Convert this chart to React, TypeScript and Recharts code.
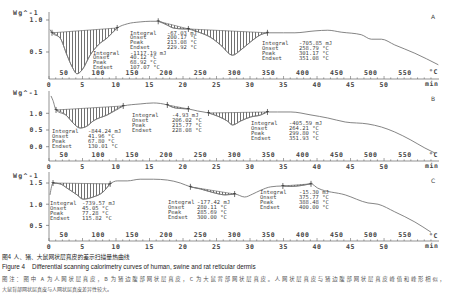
import React from 'react';
import { ComposedChart, Line, Area, Scatter, XAxis, YAxis } from 'recharts';

// time axis (min) and temperature calibration
const heatingStart = 27.9; // °C at t = 0 min
const heatingRate = 9.83; // K/min
const timeMax = 58.2;
const minuteTicks = Array.from({ length: 58 }, (_, i) => i);
const minuteLabels = [0, 5, 10, 15, 20, 25, 30, 35, 40, 45, 50];
const tempTicks = [50, 100, 150, 200, 250, 300, 350, 400, 450, 500, 550];

// DSC curves: [time (min), heat flow (W/g)]
const curveA: [number, number][] = [
  [0.15, 0.85], [0.45, 0.8], [1.65, 0.72], [2.69, 0.45], [3.44, 0.27], [4.19, 0.16], [4.94, 0.22],
  [6.14, 0.45], [7.34, 0.61], [8.68, 0.72], [10.18, 0.875], [11.68, 0.94], [13.6, 0.97], [15.1, 0.98],
  [16.3, 0.98], [17.66, 0.92], [18.56, 0.875], [20.06, 0.86], [20.8, 0.86], [22.6, 0.8], [24.1, 0.73],
  [25.6, 0.61], [27.4, 0.45], [28.6, 0.53], [30.1, 0.66], [31.6, 0.77], [32.6, 0.8], [35.0, 0.8],
  [36.7, 0.8], [39.7, 0.83], [41.6, 0.84], [43.6, 0.81], [46.6, 0.77], [48.1, 0.7], [49.6, 0.7],
  [51.6, 0.61], [54.6, 0.48], [58.1, 0.3],
];
const curveB: [number, number][] = [
  [0.3, 1.52], [0.6, 1.38], [1.05, 1.1], [2.69, 0.92], [3.59, 0.71], [4.64, 0.56], [5.69, 0.62],
  [6.59, 0.77], [8.68, 0.95], [11.08, 1.22], [13.6, 1.28], [15.57, 1.31], [17.66, 1.25], [18.86, 1.16],
  [20.8, 1.13], [22.16, 1.07], [23.8, 1.01], [25.1, 0.92], [26.6, 0.77], [27.4, 0.65], [28.6, 0.77],
  [30.1, 0.89], [31.6, 0.95], [32.6, 1.04], [34.1, 1.04], [36.1, 1.04], [39.1, 0.95], [41.6, 0.86],
  [44.2, 0.74], [47.6, 0.68], [49.6, 0.59], [51.6, 0.44], [54.0, 0.2], [56.1, -0.04], [57.6, -0.19],
];
const curveC: [number, number][] = [
  [0.15, 1.22], [0.6, 1.5], [1.65, 1.48], [2.69, 1.38], [4.19, 1.22], [5.09, 1.12], [6.59, 1.17],
  [8.08, 1.29], [9.13, 1.48], [10.18, 1.55], [11.68, 1.55], [13.6, 1.59], [15.57, 1.59], [17.66, 1.57],
  [19.6, 1.5], [21.1, 1.41], [22.6, 1.36], [24.85, 1.26], [26.3, 1.22], [27.7, 1.24], [29.2, 1.17],
  [30.4, 1.24], [31.6, 1.33], [33.1, 1.41], [34.9, 1.43], [36.1, 1.42], [37.6, 1.44], [39.1, 1.48],
  [40.1, 1.38], [44.2, 1.22], [47.6, 1.03], [49.1, 1.0], [51.6, 0.82], [54.6, 0.58], [57.0, 0.34],
];

// integration limits (min)
const hatchA: [number, number][] = [[0.45, 10.18], [16.3, 20.8], [20.8, 32.6]];
const hatchB: [number, number][] = [[1.05, 11.08], [17.66, 20.8], [23.8, 32.6]];
const hatchC: [number, number][] = [[0.6, 9.13], [21.1, 27.7], [34.9, 39.1]];

const resultLabels = ['Integral', 'Onset', 'Peak', 'Endset'];
const resultsA = [
  ['-1117.19 mJ', '40.12 °C', '68.92 °C', '107.07 °C'],
  ['-67.03 mJ', '200.17 °C', '213.08 °C', '229.92 °C'],
  ['-705.85 mJ', '258.79 °C', '301.17 °C', '351.08 °C'],
];
const resultsB = [
  ['-844.24 mJ', '41.96 °C', '67.80 °C', '130.01 °C'],
  ['-4.93 mJ', '206.02 °C', '215.77 °C', '228.08 °C'],
  ['-405.59 mJ', '264.21 °C', '299.80 °C', '351.93 °C'],
];
const resultsC = [
  ['-739.57 mJ', '45.05 °C', '77.28 °C', '115.82 °C'],
  ['-177.42 mJ', '280.11 °C', '285.69 °C', '300.00 °C'],
  ['-15.30 mJ', '375.77 °C', '388.48 °C', '400.00 °C'],
];

const tempDomain = [heatingStart, heatingStart + heatingRate * timeMax];
const tempData = tempTicks.map((T) => ({ T, v: 0 }));

const AX = '#666';
const TXT = '#444';
const MONO = 'DejaVu Sans Mono';

const MinuteTick = (props: any) => {
  const { x, y, payload } = props;
  const v = payload.value;
  const major = minuteLabels.includes(v);
  return (
    <g>
      <line x1={x} x2={x} y1={y} y2={y - (major ? 3 : 1.6)} stroke={AX} strokeWidth={0.6} />
      {major && (
        <text x={x} y={y + 7.5} textAnchor="middle" fontSize={6.5} fontFamily={MONO} fontWeight="bold" fill={TXT} letterSpacing={0.6}>
          {v}
        </text>
      )}
    </g>
  );
};

const TempTick = (props: any) => {
  const { x, y, payload } = props;
  return (
    <text x={x} y={y - 4.5} textAnchor="middle" fontSize={6.5} fontFamily={MONO} fontWeight="bold" fill={TXT} letterSpacing={0.6}>
      {payload.value}
    </text>
  );
};

const Marker = (props: any) => {
  const { cx, cy } = props;
  return (
    <g stroke="#333" strokeWidth={0.7} fill="none">
      <line x1={cx} x2={cx} y1={cy - 3} y2={cy + 3} />
      <line x1={cx - 1.5} x2={cx + 1.5} y1={cy - 0.5} y2={cy - 0.5} />
    </g>
  );
};

function valueAt(curve: [number, number][], t: number) {
  const p = curve.find((c) => c[0] === t);
  return p ? p[1] : 0;
}

type PanelProps = {
  id: string;
  top: number;
  height: number;
  marginTop: number;
  curve: [number, number][];
  hatches: [number, number][];
  yDomain: [number, number];
  yTicks: number[];
};

function Panel({ id, top, height, marginTop, curve, hatches, yDomain, yTicks }: PanelProps) {
  const lineData = curve.map(([t, v]) => ({ t, v }));
  const areas = hatches.map(([a, b]) => {
    const va = valueAt(curve, a);
    const vb = valueAt(curve, b);
    return curve
      .filter(([t]) => t >= a && t <= b)
      .map(([t, v]) => ({ t, range: [v, va + ((vb - va) * (t - a)) / (b - a)] }));
  });
  const markerTimes = Array.from(new Set(hatches.flat()));
  const markers = markerTimes.map((t) => ({ t, v: valueAt(curve, t) }));
  return (
    <div style={{ position: 'absolute', left: 0, top }}>
      <ComposedChart width={454} height={height} margin={{ top: marginTop, right: 15, bottom: 0, left: 0 }}>
        <defs>
          <pattern id={`hatch${id}`} patternUnits="userSpaceOnUse" width={3} height={6}>
            <line x1={0.5} y1={0} x2={0.5} y2={6} stroke="#333" strokeWidth={0.7} />
          </pattern>
        </defs>
        <XAxis
          xAxisId="min"
          type="number"
          dataKey="t"
          domain={[0, timeMax]}
          allowDataOverflow
          ticks={minuteTicks}
          interval={0}
          tick={<MinuteTick />}
          tickLine={false}
          tickSize={0}
          tickMargin={0}
          height={11}
          axisLine={{ stroke: AX, strokeWidth: 0.7 }}
        />
        <XAxis
          xAxisId="temp"
          type="number"
          dataKey="T"
          domain={tempDomain}
          allowDataOverflow
          ticks={tempTicks}
          interval={0}
          mirror
          height={1}
          tickSize={0}
          tickMargin={0}
          axisLine={false}
          tickLine={false}
          tick={<TempTick />}
        />
        <YAxis
          type="number"
          domain={yDomain}
          allowDataOverflow
          ticks={yTicks}
          interval={0}
          width={49}
          tickFormatter={(v: number) => v.toFixed(1)}
          tickSize={3}
          tickMargin={3}
          axisLine={{ stroke: AX, strokeWidth: 0.7 }}
          tickLine={{ stroke: AX, strokeWidth: 0.7 }}
          tick={{ fontSize: 6.5, fill: TXT, fontFamily: MONO, fontWeight: 'bold', letterSpacing: 0.6 }}
        />
        <Line
          xAxisId="temp"
          data={tempData}
          dataKey="v"
          stroke="none"
          dot={false}
          activeDot={false}
          isAnimationActive={false}
        />
        {areas.map((d, i) => (
          <Area
            key={i}
            xAxisId="min"
            data={d}
            dataKey="range"
            type="monotone"
            fill={`url(#hatch${id})`}
            fillOpacity={1}
            stroke="#555"
            strokeWidth={0.6}
            dot={false}
            activeDot={false}
            isAnimationActive={false}
          />
        ))}
        <Line
          xAxisId="min"
          data={lineData}
          dataKey="v"
          type="monotone"
          stroke="#777"
          strokeWidth={0.9}
          dot={false}
          activeDot={false}
          isAnimationActive={false}
        />
        <Scatter xAxisId="min" data={markers} dataKey="v" shape={<Marker />} isAnimationActive={false} />
      </ComposedChart>
    </div>
  );
}

const abs = (x: number, y: number, extra: React.CSSProperties = {}): React.CSSProperties => ({
  position: 'absolute',
  left: x,
  top: y,
  whiteSpace: 'pre',
  ...extra,
});

function Results({ x, vx, y, values, lh = 5 }: { x: number; vx: number; y: number; values: string[]; lh?: number }) {
  const st: React.CSSProperties = { fontFamily: MONO, fontSize: 5.5, lineHeight: `${lh}px`, color: TXT };
  return (
    <>
      <div style={abs(x, y - lh / 2, st)}>{resultLabels.join('\n')}</div>
      <div style={abs(vx, y - lh / 2, st)}>{values.join('\n')}</div>
    </>
  );
}

const axisText: React.CSSProperties = {
  fontFamily: MONO,
  fontSize: 6.5,
  fontWeight: 'bold',
  color: TXT,
  lineHeight: '7px',
  letterSpacing: 0.6,
};

function UnitLabels({ yUnit, yTemp, yMin, letter, yLetter }: { yUnit: number; yTemp: number; yMin: number; letter: string; yLetter: number }) {
  return (
    <>
      <div style={abs(13, yUnit - 3.5, { ...axisText, letterSpacing: 1.3 })}>Wg^-1</div>
      <div style={abs(429, yTemp - 3.5, axisText)}>°C</div>
      <div style={abs(425, yMin - 3.5, axisText)}>min</div>
      <div style={abs(431, yLetter - 3.5, { fontFamily: 'DejaVu Sans', fontSize: 6, color: TXT, lineHeight: '7px' })}>{letter}</div>
    </>
  );
}

export default function App() {
  return (
    <div style={{ position: 'absolute', left: 0, top: 0, width: 454, height: 300, background: '#fff', overflow: 'hidden' }}>
      <Panel id="A" top={0} height={90} marginTop={12} curve={curveA} hatches={hatchA} yDomain={[0.078, 1.125]} yTicks={[0.5, 1.0]} />
      <Panel id="B" top={80} height={92} marginTop={11} curve={curveB} hatches={hatchB} yDomain={[-0.428, 1.668]} yTicks={[0, 0.5, 1.0]} />
      <Panel id="C" top={161} height={91} marginTop={11} curve={curveC} hatches={hatchC} yDomain={[0.132, 1.76]} yTicks={[0.5, 1.0, 1.5]} />

      <Results x={93} vx={130} y={53.2} values={resultsA[0]} lh={4.6} />
      <Results x={130} vx={167} y={33} values={resultsA[1]} lh={4.8} />
      <Results x={262} vx={299} y={43} values={resultsA[2]} />
      <Results x={52} vx={88} y={131} values={resultsB[0]} />
      <Results x={132} vx={172} y={115} values={resultsB[1]} />
      <Results x={251} vx={289} y={123} values={resultsB[2]} />
      <Results x={50} vx={82} y={203} values={resultsC[0]} />
      <Results x={168} vx={197} y={202} values={resultsC[1]} />
      <Results x={260} vx={299} y={192} values={resultsC[2]} />

      <UnitLabels yUnit={13} yTemp={72} yMin={84} letter="A" yLetter={16} />
      <UnitLabels yUnit={93} yTemp={155} yMin={166} letter="B" yLetter={98} />
      <UnitLabels yUnit={176} yTemp={236} yMin={246} letter="C" yLetter={180} />

      <div style={abs(2, 253, { fontFamily: 'Noto Sans CJK SC', fontSize: 5.8, lineHeight: '8px', color: '#222' })}>
        图4  人、猪、大鼠网状层真皮的差示扫描量热曲线
      </div>
      <div style={abs(2, 263, { fontFamily: 'Liberation Sans', fontSize: 6.3, lineHeight: '8px', color: '#222' })}>
        Figure 4    Differential scanning calorimetry curves of human, swine and rat reticular dermis
      </div>
      <div
        style={{
          position: 'absolute',
          left: 2,
          top: 274,
          width: 443,
          fontFamily: 'Noto Sans CJK SC',
          fontSize: 5.4,
          lineHeight: '10px',
          color: '#555',
          textAlign: 'justify',
          textAlignLast: 'justify',
          whiteSpace: 'nowrap',
        }}
      >
        图注：图中 A 为人网状层真皮，B 为猪边腹部网状层真皮，C 为大鼠背部网状层真皮。人网状层真皮与猪边腹部网状层真皮峰值和峰形相似，
      </div>
      <div style={abs(2, 285, { fontFamily: 'Noto Sans CJK SC', fontSize: 5, lineHeight: '8px', color: '#555' })}>
        大鼠背部网状层真皮与人网状层真皮差异性较大。
      </div>
    </div>
  );
}
